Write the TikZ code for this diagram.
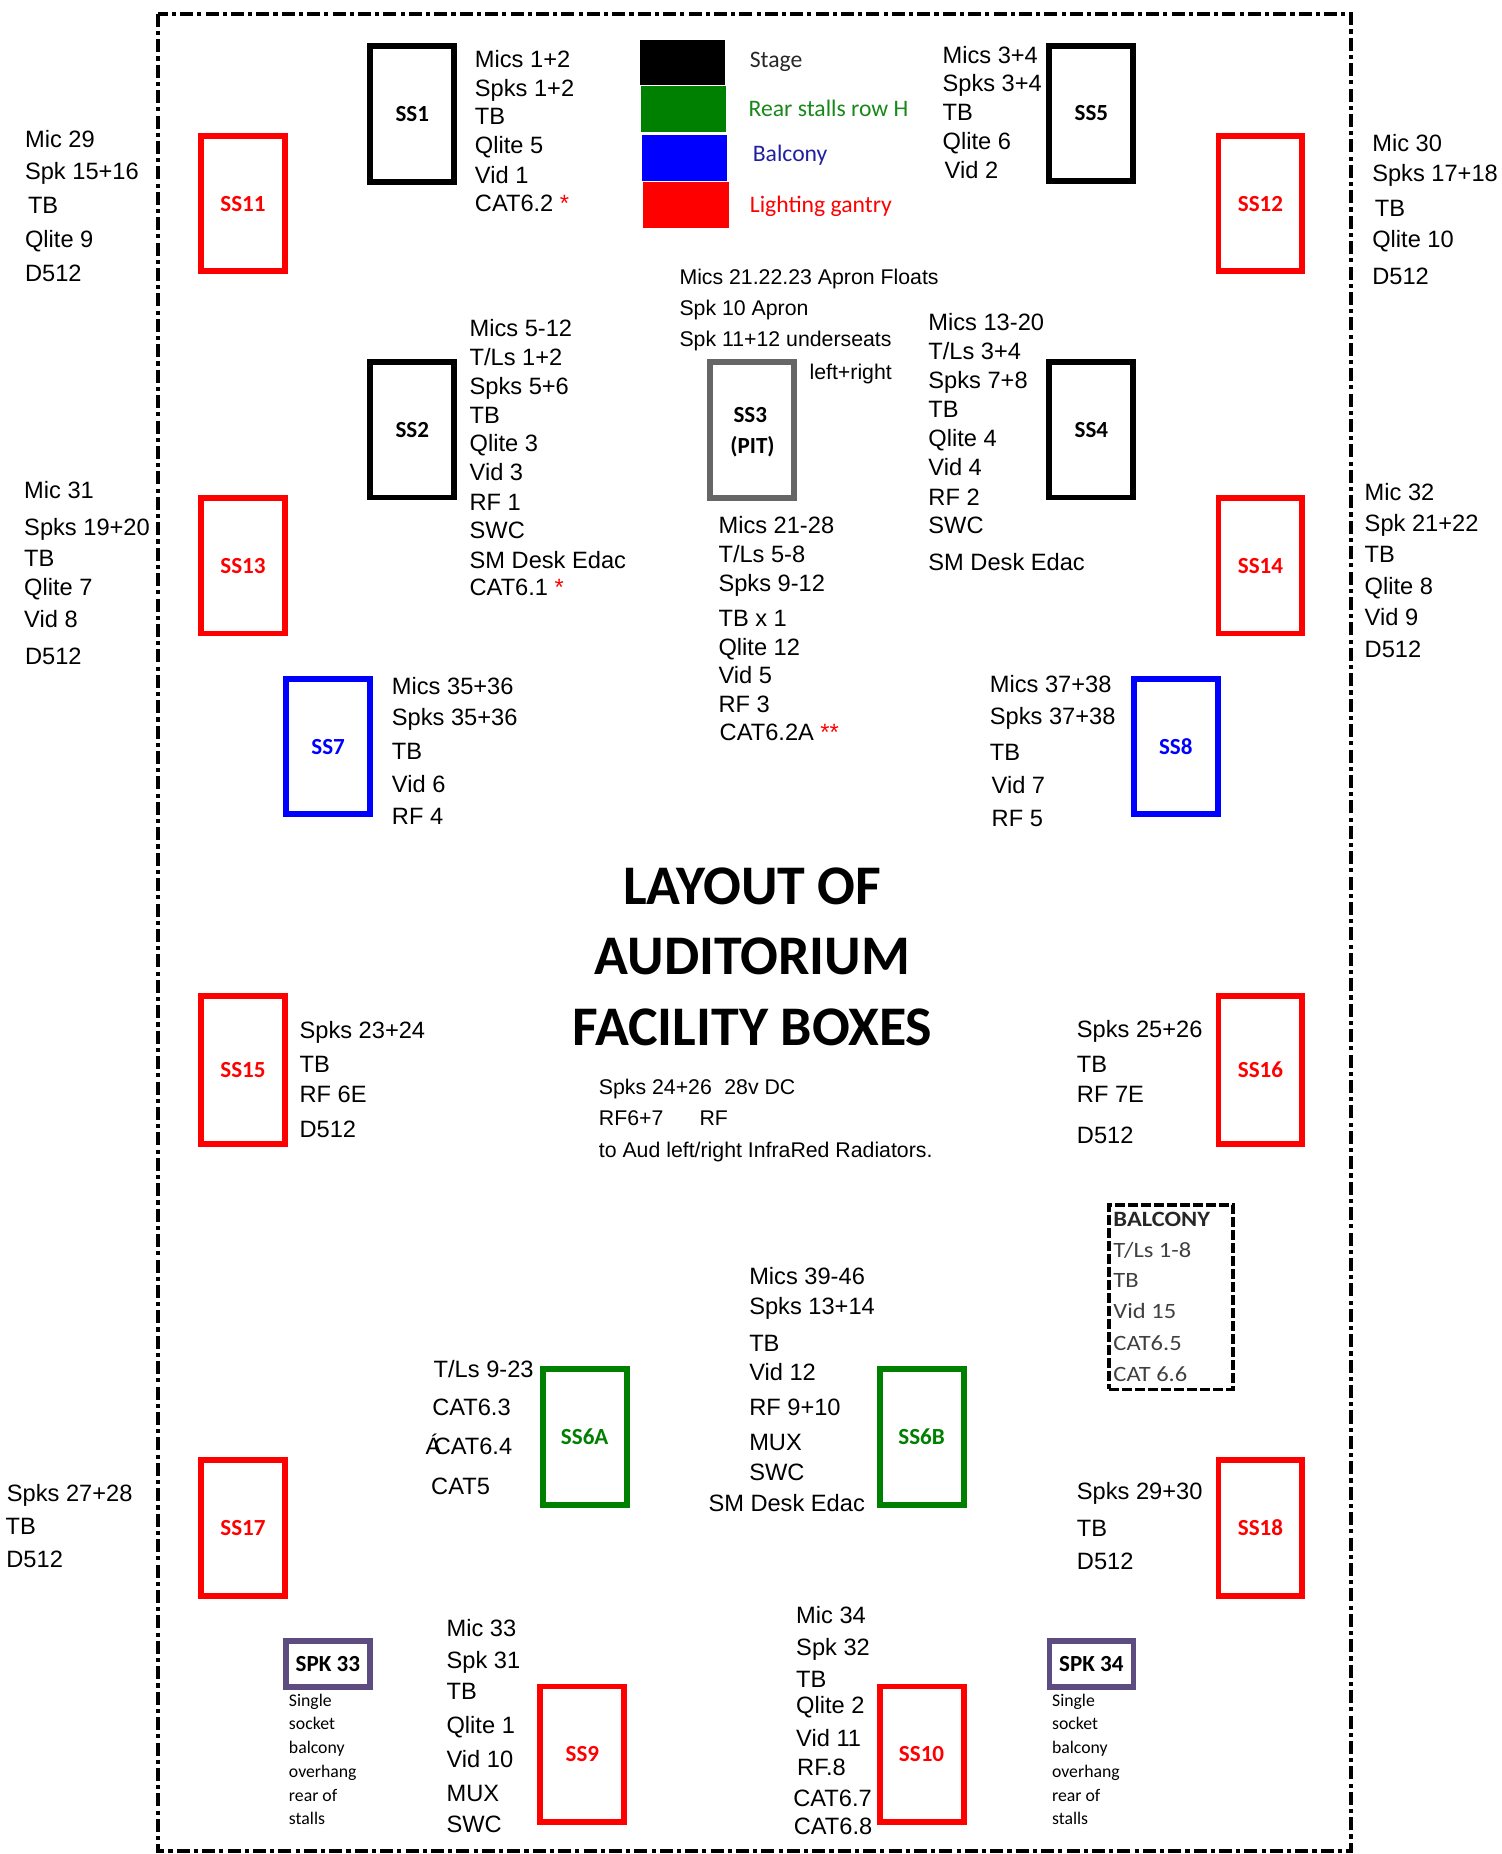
\documentclass[tikz,border=0pt]{standalone}
\usepackage{fontspec}
\setmainfont{Liberation Sans}
\newfontfamily\calfont{Carlito}
\newfontfamily\calwide[FakeStretch=1.12]{Carlito}
\definecolor{rd}{RGB}{255,0,0}
\definecolor{bl}{RGB}{0,0,255}
\definecolor{gr}{RGB}{0,128,0}
\definecolor{gy}{RGB}{102,102,102}
\definecolor{pu}{RGB}{92,76,128}
\definecolor{legbl}{RGB}{32,32,160}
\definecolor{leggr}{RGB}{24,136,24}
\definecolor{legbk}{RGB}{40,40,40}
\definecolor{balc}{RGB}{64,64,64}
\newcommand\mylist[3]{\foreach \yy/\txt [count=\k] in {#3} {\node[tx] (#1\k) at (#2,\yy) {\txt};}}
\begin{document}
\begin{tikzpicture}[x=1pt,y=-1pt,
  tx/.style={inner sep=0pt, anchor=base west, font=\fontsize{20}{24}\selectfont},
  txs/.style={inner sep=0pt, anchor=base west, font=\fontsize{18}{21}\selectfont},
  sbox/.style={draw, line width=5pt, inner sep=0pt, minimum width=71pt, minimum height=114.5pt,
     font=\calfont\bfseries\fontsize{19.5}{22}\selectfont},
  spkbox/.style={draw=pu, line width=4.8pt, inner sep=0pt, minimum width=71pt, minimum height=39pt,
     font=\calfont\bfseries\fontsize{19.5}{22}\selectfont},
  note/.style={inner sep=0pt, anchor=base west, font=\calfont\fontsize{15}{18}\selectfont},
  legsq/.style={inner sep=0pt, anchor=north west, draw=none},
  legtx/.style={inner sep=0pt, anchor=base west, font=\calfont\fontsize{20}{24}\selectfont},
  ttl/.style={inner sep=0pt, anchor=base, font=\calfont\bfseries\fontsize{47.3}{50}\selectfont},
  baltx/.style={inner sep=0pt, anchor=base west, text=balc, font=\calwide\fontsize{18.5}{21}\selectfont},
  frame/.style={line width=3.2pt, dash pattern=on 11pt off 3.5pt on 3.5pt off 3.5pt}
]
\useasboundingbox (0,0) rectangle (1270.3,1568);
% outer frame
\draw[frame] (133.6,11.7) rectangle (1142.6,1565.3);

% legend
\node[legsq, fill=black, minimum width=72pt, minimum height=38.5pt] (leg1) at (541,33.4) {};
\node[legsq, fill=gr, minimum width=72pt, minimum height=38.8pt] (leg2) at (542,72.6) {};
\node[legsq, fill=bl, minimum width=72pt, minimum height=38.8pt] (leg3) at (543,114) {};
\node[legsq, fill=rd, minimum width=72.5pt, minimum height=39.4pt] (leg4) at (543.5,153.5) {};
\node[legtx, text=legbk] (legt1) at (634,57.5) {Stage};
\node[legtx, text=leggr] (legt2) at (633,98.6) {Rear stalls row H};
\node[legtx, text=legbl] (legt3) at (636.5,137) {Balcony};
\node[legtx, text=rd] (legt4) at (634,180) {Lighting gantry};

% boxes
\node[sbox, draw=black] (ss1) at (348.7,96.3) {SS1};
\node[sbox, draw=black] (ss5) at (923,96) {SS5};
\node[sbox, draw=rd, text=rd] (ss11) at (205.5,172.2) {SS11};
\node[sbox, draw=rd, text=rd] (ss12) at (1066,172.2) {SS12};
\node[sbox, draw=black] (ss2) at (348.7,363.5) {SS2};
\node[sbox, draw=gy] (ss3) at (636,363.6) {};
\node[inner sep=0pt, anchor=base, font=\calfont\bfseries\fontsize{19.5}{22}\selectfont] (ss3a) at (634.5,357.5) {SS3};
\node[inner sep=0pt, anchor=base, font=\calfont\bfseries\fontsize{19.5}{22}\selectfont] (ss3b) at (636.4,383.4) {(PIT)};
\node[sbox, draw=black] (ss4) at (923,363.5) {SS4};
\node[sbox, draw=rd, text=rd] (ss13) at (205.5,478.5) {SS13};
\node[sbox, draw=rd, text=rd] (ss14) at (1066,478.5) {SS14};
\node[sbox, draw=bl, text=bl] (ss7) at (277.5,631.5) {SS7};
\node[sbox, draw=bl, text=bl] (ss8) at (994.4,631.5) {SS8};
\node[sbox, draw=rd, text=rd, minimum height=125pt] (ss15) at (205.5,904.8) {SS15};
\node[sbox, draw=rd, text=rd, minimum height=125pt] (ss16) at (1066,904.8) {SS16};
\node[sbox, draw=gr, text=gr] (ss6a) at (494.5,1215.3) {SS6A};
\node[sbox, draw=gr, text=gr] (ss6b) at (779.4,1215.3) {SS6B};
\node[sbox, draw=rd, text=rd, minimum height=115pt] (ss17) at (205.5,1292.3) {SS17};
\node[sbox, draw=rd, text=rd, minimum height=115pt] (ss18) at (1066,1292.3) {SS18};
\node[spkbox] (spk33) at (277.3,1407.3) {SPK 33};
\node[spkbox] (spk34) at (923,1407.3) {SPK 34};
\node[sbox, draw=rd, text=rd] (ss9) at (492.5,1483.6) {SS9};
\node[sbox, draw=rd, text=rd] (ss10) at (779.4,1483.6) {SS10};
\node[draw=black, line width=3pt, dash pattern=on 8.5pt off 2.5pt, inner sep=0pt,
      minimum width=104.7pt, minimum height=156pt] (balbox) at (990.4,1097) {};

% title
\node[ttl] (title1) at (636.3,765) {LAYOUT OF};
\node[ttl] (title2) at (636.3,824.5) {AUDITORIUM};
\node[ttl] (title3) at (636.3,884.6) {FACILITY BOXES};

% text lists
\mylist{tl}{21}{124.7/Mic 29, 152/Spk 15+16}
\node[tx] (tl3) at (23.5,180.5) {TB};
\mylist{tlb}{21}{209/Qlite 9, 238/D512}

\mylist{sa}{401.5}{57.5/Mics 1+2, 82/Spks 1+2, 105.5/TB, 130/Qlite 5, 154.8/Vid 1, 179/CAT6.2 \textcolor{rd}{*}}

\mylist{sb}{797}{53.5/Mics 3+4, 77.6/Spks 3+4, 102/TB, 126.4/Qlite 6}
\node[tx] (sb5) at (798.8,151) {Vid 2};

\mylist{tr}{1160.4}{128/Mic 30, 153.8/Spks 17+18}
\node[tx] (tr3) at (1162.6,183.3) {TB};
\mylist{trb}{1160.4}{209.7/Qlite 10, 240.8/D512}

\node[txs] (ap1) at (574.5,240.5) {Mics 21.22.23 Apron Floats};
\node[txs] (ap2) at (574.5,267) {Spk 10 Apron};
\node[txs] (ap3) at (574.5,293.2) {Spk 11+12 underseats};
\node[txs] (ap4) at (684.5,320.8) {left+right};

\mylist{sc}{397}{285/Mics 5-12, 309.3/{T/Ls 1+2}, 333.8/Spks 5+6, 358.5/TB, 382.2/Qlite 3, 406.7/Vid 3, 431.4/RF 1, 455.5/SWC, 480.6/SM Desk Edac, 503.3/CAT6.1 \textcolor{rd}{*}}

\mylist{sd}{785}{279.6/Mics 13-20, 303.7/{T/Ls 3+4}, 328.7/Spks 7+8, 353.5/TB, 377.9/Qlite 4, 402/Vid 4, 427.3/RF 2, 450.8/SWC, 482.2/SM Desk Edac}

\mylist{se}{607.5}{451.5/Mics 21-28, 476/{T/Ls 5-8}, 500.6/Spks 9-12, 529.5/TB x 1, 554.3/Qlite 12, 578.3/Vid 5, 602.4/RF 3}
\node[tx] (se8) at (608.5,626.5) {CAT6.2A \textcolor{rd}{**}};

\mylist{ml}{20.3}{421.4/Mic 31, 452.5/Spks 19+20, 478.9/TB, 503.3/Qlite 7, 530.9/Vid 8}
\node[tx] (ml6) at (21,561.6) {D512};

\mylist{mr}{1154}{423.4/Mic 32, 449.1/Spk 21+22, 475.5/TB, 502.6/Qlite 8, 529.4/Vid 9, 555.9/D512}

\mylist{s7}{331.3}{587.7/Mics 35+36, 613.8/Spks 35+36, 642.2/TB, 670/Vid 6, 697.4/RF 4}
\mylist{s8}{837}{586/Mics 37+38, 612.8/Spks 37+38, 643.5/TB}
\node[tx] (s84) at (838.5,671) {Vid 7};
\node[tx] (s85) at (838.5,698.7) {RF 5};

\mylist{s15}{253.2}{878/Spks 23+24, 907/TB, 932.8/RF 6E, 961.6/D512}
\mylist{s16}{910.6}{877.6/Spks 25+26, 907/TB, 932.8/RF 7E, 967.3/D512}

\node[txs] (dc1) at (506.3,925.5) {Spks 24+26};
\node[txs] (dc2) at (612.4,925.5) {28v DC};
\node[txs] (dc3) at (506.3,952.2) {RF6+7};
\node[txs] (dc4) at (591.4,952.2) {RF};
\node[txs] (dc5) at (506.3,979) {to Aud left/right InfraRed Radiators.};

% balcony box text
\node[baltx, font=\calwide\bfseries\fontsize{18.5}{21}\selectfont, text=black!85] (bt1) at (941.5,1037) {BALCONY};
\node[baltx] (bt2) at (941.5,1063.3) {T/Ls 1-8};
\node[baltx] (bt3) at (941.5,1089.2) {TB};
\node[baltx] (bt4) at (941.5,1115.5) {Vid 15};
\node[baltx] (bt5) at (941.5,1141.9) {CAT6.5};
\node[baltx] (bt6) at (941.5,1168.5) {CAT 6.6};

% SS6A
\node[tx] (s6a1) at (366.6,1165.2) {T/Ls 9-23};
\node[tx] (s6a2) at (365.4,1197) {CAT6.3};
\node[tx] (s6a3) at (359.7,1230.1) {Á\kern-6.4pt CAT6.4};
\node[tx] (s6a4) at (364.5,1263.7) {CAT5};

% SS6B
\mylist{s6b}{633.5}{1086.5/Mics 39-46, 1112.1/Spks 13+14, 1142.9/TB, 1167.5/Vid 12, 1197.3/RF 9+10, 1226.7/MUX, 1252.3/SWC}
\node[tx] (s6b8) at (599,1278.7) {SM Desk Edac};

% bottom outside
\node[tx] (bl1) at (5.7,1269.8) {Spks 27+28};
\node[tx] (bl2) at (4.5,1297.8) {TB};
\node[tx] (bl3) at (5.2,1326) {D512};
\mylist{br}{910.6}{1267.8/Spks 29+30, 1299.2/TB, 1327.6/D512}

% SS9
\mylist{s9}{377.5}{1384/Mic 33, 1410.7/Spk 31, 1437.4/TB, 1466/Qlite 1, 1494.8/Vid 10, 1523.2/MUX, 1549.9/SWC}

% SS10
\mylist{s10}{673.2}{1373.1/Mic 34, 1400.1/Spk 32, 1427.2/TB, 1449/Qlite 2, 1477.1/Vid 11}
\node[tx] (s106) at (674,1501.7) {RF.8};
\node[tx] (s107) at (670.8,1527.7) {CAT6.7};
\node[tx] (s108) at (671.2,1551.6) {CAT6.8};

% speaker notes
\foreach \yy/\txt [count=\k] in {1443.2/Single, 1463/socket, 1483.2/balcony, 1503.7/overhang, 1523.5/rear of, 1543/stalls} {
  \node[note] (na\k) at (244.2,\yy) {\txt};
  \node[note] (nb\k) at (889.6,\yy) {\txt};
}
\end{tikzpicture}
\end{document}
